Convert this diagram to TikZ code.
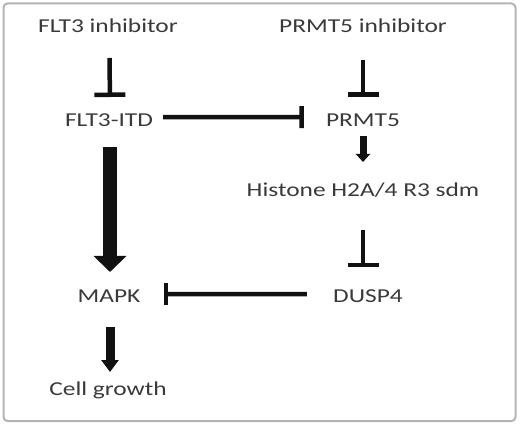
\documentclass[tikz,border=0pt]{standalone}
\usepackage{fontspec}
\setmainfont{Carlito}
\usetikzlibrary{arrows.meta}
\newcommand{\widetxt}[1]{\scalebox{1.29}[1]{#1}}
\definecolor{txtcol}{HTML}{3A3A3A}
\definecolor{framecol}{HTML}{B4B4B4}
\definecolor{linecol}{HTML}{111111}
\begin{document}
\begin{tikzpicture}[x=1pt,y=-1pt,
  lbl/.style={inner sep=0pt, anchor=base, text=txtcol, font=\fontsize{19.7}{24}\selectfont},
  inhibv/.style={draw=linecol, line width=4.5pt, -{Bar[width=31pt]}},
  inhibh/.style={draw=linecol, line width=4.5pt, -{Bar[width=22pt]}},
  fatarrow/.style={draw=linecol, line width=14pt, -{Triangle[width=32pt,length=16pt]}},
  midarrow/.style={draw=linecol, line width=9pt, -{Triangle[width=17pt,length=12pt]}},
  smallarrow/.style={draw=linecol, line width=7pt, -{Triangle[width=14pt,length=8pt]}}
]
\useasboundingbox (0,0) rectangle (520,425);
\draw[framecol, line width=2pt, rounded corners=4pt] (3.5,3.5) rectangle (515.5,421);

\node[lbl] (flti) at (108,33) {\widetxt{FLT3 inhibitor}};
\node[lbl] (prmti) at (363,33) {\widetxt{PRMT5 inhibitor}};
\node[lbl] (flt) at (109,127) {\widetxt{FLT3-ITD}};
\node[lbl] (prmt) at (363,127) {\widetxt{PRMT5}};
\node[lbl] (hist) at (363,197) {\widetxt{Histone H2A/4 R3 sdm}};
\node[lbl] (mapk) at (109,302) {\widetxt{MAPK}};
\node[lbl] (dusp) at (368,302) {\widetxt{DUSP4}};
\node[lbl] (cell) at (108,395) {\widetxt{Cell growth}};

\draw[inhibv, shorten <=25pt, shorten >=30pt] ([xshift=1.5pt]flti.base) -- ([xshift=1pt]flt.base);
\draw[inhibv, shorten <=27pt, shorten >=30pt] (prmti.base) -- (prmt.base);
\draw[inhibh, shorten <=10pt, shorten >=22pt] ([yshift=3.5pt]flt.east) -- ([yshift=3.5pt]prmt.west);
\draw[smallarrow, shorten <=9pt, shorten >=35pt] (prmt.base) -- (hist.base);
\draw[inhibv, shorten <=33pt, shorten >=35pt] (hist.base) -- (hist.base |- dusp.base);
\draw[fatarrow, shorten <=20pt, shorten >=30pt] ([xshift=1pt]flt.base) -- ([xshift=1pt]mapk.base);
\draw[inhibh, shorten <=26pt, shorten >=23pt] ([yshift=1.5pt]dusp.west) -- ([yshift=1.5pt]mapk.east);
\draw[midarrow, shorten <=25pt, shorten >=23pt] ([xshift=1pt]mapk.base) -- ([xshift=2pt]cell.base);
\end{tikzpicture}
\end{document}
